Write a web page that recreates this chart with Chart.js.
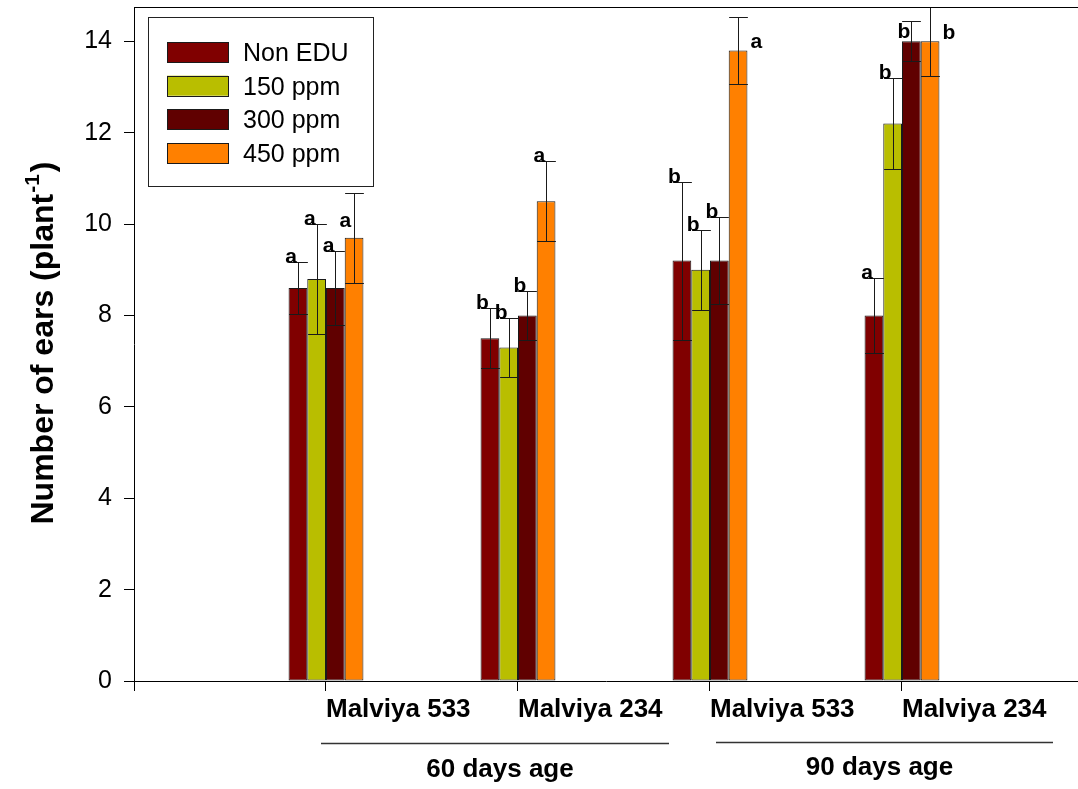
<!DOCTYPE html>
<html><head><meta charset="utf-8">
<script src="https://cdn.jsdelivr.net/npm/chart.js@4.4.1/dist/chart.umd.min.js"></script>
<style>html,body{margin:0;padding:0;background:#fff}</style>
</head><body>
<canvas id="c" width="1078" height="789"></canvas>
<script>
// ---- data ----
const categories = ['Malviya 533', 'Malviya 234', 'Malviya 533', 'Malviya 234'];
const categoryPositions = [1, 2, 3, 4];
const ageGroups = ['60 days age', '90 days age'];
const ageGroupMembers = [[1, 2], [3, 4]];
const seriesNames = ['Non EDU', '150 ppm', '300 ppm', '450 ppm'];
const nonEDU = [8.6, 7.5, 9.2, 8.0];
const ppm150 = [8.8, 7.3, 9.0, 12.2];
const ppm300 = [8.6, 8.0, 9.2, 14.0];
const ppm450 = [9.7, 10.5, 13.8, 14.0];
const errNonEDU = [0.56, 0.66, 1.73, 0.83];
const err150 = [1.2, 0.64, 0.88, 1.0];
const err300 = [0.8, 0.53, 0.96, 0.44];
const err450 = [0.98, 0.87, 0.73, 0.75];
const lettersNonEDU = ['a', 'b', 'b', 'a'];
const letters150 = ['a', 'b', 'b', 'b'];
const letters300 = ['a', 'b', 'b', 'b'];
const letters450 = ['a', 'a', 'a', 'b'];
const yTickStep = 2;
const yMin = 0, yMax = 14.75;
const yTitle = 'Number of ears (plant';
const yTitleSup = '-1';
const yTitleEnd = ')';

// ---- styles ----
const colors = ['#800000', '#B9BE00', '#600000', '#FF8000'];
const FONT = "'Liberation Sans', Arial, Helvetica, sans-serif";
Chart.defaults.font.family = FONT;
Chart.defaults.color = '#000';

const values = [nonEDU, ppm150, ppm300, ppm450];
const errors = [errNonEDU, err150, err300, err450];
const letters = [lettersNonEDU, letters150, letters300, letters450];

const datasets = seriesNames.map((name, k) => ({
  label: name,
  data: values[k].map((v, i) => ({x: categoryPositions[i], y: v})),
  errors: errors[k],
  letters: letters[k],
  backgroundColor: colors[k],
  borderColor: '#1a1a1a',
  borderWidth: 1,
  borderSkipped: false,
  categoryPercentage: 0.39,
  barPercentage: 1.0
}));

function legendBox(chart) {
  const ca = chart.chartArea;
  return {x: ca.left + 14, y: ca.top + 10, w: 225, h: 169};
}

const errorBarPlugin = {
  id: 'errorBars',
  afterDatasetsDraw(chart) {
    const {ctx, chartArea} = chart;
    const y = chart.scales.y;
    ctx.save();
    ctx.beginPath();
    ctx.rect(chartArea.left, chartArea.top - 0.5, chartArea.right - chartArea.left, chartArea.bottom - chartArea.top + 1);
    ctx.clip();
    ctx.strokeStyle = '#1a1a1a';
    ctx.lineWidth = 1;
    chart.data.datasets.forEach((ds, k) => {
      const meta = chart.getDatasetMeta(k);
      meta.data.forEach((bar, i) => {
        const v = ds.data[i].y, e = ds.errors[i];
        const x = Math.round(bar.x) + 0.5;
        const yt = Math.round(y.getPixelForValue(v + e)) + 0.5;
        const yb = Math.round(y.getPixelForValue(v - e)) + 0.5;
        const hw = bar.width / 2;
        ctx.beginPath();
        ctx.moveTo(x, yt); ctx.lineTo(x, yb);
        ctx.moveTo(x - hw, yt); ctx.lineTo(x + hw, yt);
        ctx.moveTo(x - hw, yb); ctx.lineTo(x + hw, yb);
        ctx.stroke();
      });
    });
    ctx.restore();
    // top frame line
    ctx.save();
    ctx.strokeStyle = '#000';
    ctx.lineWidth = 1;
    ctx.beginPath();
    const t = Math.round(chartArea.top) + 0.5;
    ctx.moveTo(chartArea.left, t); ctx.lineTo(chartArea.right, t);
    ctx.stroke();
    ctx.restore();
  }
};

const letterPlugin = {
  id: 'letters',
  afterDatasetsDraw(chart) {
    const {ctx, chartArea} = chart;
    const y = chart.scales.y;
    const n = chart.data.datasets.length;
    const lb = legendBox(chart);
    ctx.save();
    ctx.font = 'bold 21px ' + FONT;
    ctx.fillStyle = '#000';
    ctx.textBaseline = 'alphabetic';
    chart.data.datasets.forEach((ds, k) => {
      const meta = chart.getDatasetMeta(k);
      meta.data.forEach((bar, i) => {
        const v = ds.data[i].y, e = ds.errors[i];
        const cap = y.getPixelForValue(v + e);
        const nearTop = cap - 18 < chartArea.top + 12;
        if (nearTop && k === n - 1) {
          ctx.textAlign = 'left';
          ctx.fillText(ds.letters[i], bar.x + bar.width / 2 + 3, y.getPixelForValue(v) - 2);
        } else {
          ctx.textAlign = 'right';
          let yy = Math.max(cap + 1, chartArea.top + 31);
          const lx = bar.x - 14;
          if (lx < lb.x + lb.w && yy - 16 < lb.y + lb.h) {
            yy = lb.y + lb.h + 41;
            ctx.fillText(ds.letters[i], bar.x - 3, yy);
          } else {
            ctx.fillText(ds.letters[i], bar.x - 1, yy);
          }
        }
      });
    });
    ctx.restore();
  }
};

const legendPlugin = {
  id: 'boxLegend',
  afterDraw(chart) {
    const {ctx} = chart;
    const lb = legendBox(chart);
    const bx = lb.x, by = lb.y, bw = lb.w, bh = lb.h;
    ctx.save();
    ctx.fillStyle = '#fff';
    ctx.fillRect(bx, by, bw, bh);
    ctx.strokeStyle = '#222';
    ctx.lineWidth = 1;
    ctx.strokeRect(Math.round(bx) + 0.5, Math.round(by) + 0.5, bw, bh);
    ctx.font = '25px ' + FONT;
    ctx.textAlign = 'left';
    ctx.textBaseline = 'alphabetic';
    chart.data.datasets.forEach((ds, k) => {
      const sy = by + 25 + k * 33.7;
      ctx.fillStyle = ds.backgroundColor;
      ctx.fillRect(bx + 19, sy, 61, 20);
      ctx.strokeStyle = '#1a1a1a';
      ctx.strokeRect(Math.round(bx + 19) + 0.5, Math.round(sy) + 0.5, 61, 20);
      ctx.fillStyle = '#000';
      ctx.fillText(ds.label, bx + 95, sy + 19);
    });
    ctx.restore();
  }
};

const yTitlePlugin = {
  id: 'yTitle',
  afterDraw(chart) {
    const {ctx} = chart;
    ctx.save();
    const mainFont = 'bold 32px ' + FONT, supFont = 'bold 21px ' + FONT;
    ctx.font = mainFont; const w1 = ctx.measureText(yTitle).width;
    ctx.font = supFont; const w2 = ctx.measureText(yTitleSup).width;
    ctx.font = mainFont; const w3 = ctx.measureText(yTitleEnd).width;
    const total = w1 + w2 + 3 + w3;
    const cy = 343;
    ctx.translate(53, cy);
    ctx.rotate(-Math.PI / 2);
    ctx.fillStyle = '#000';
    ctx.textAlign = 'left';
    ctx.textBaseline = 'alphabetic';
    let x = -total / 2;
    ctx.font = mainFont; ctx.fillText(yTitle, x, 0); x += w1;
    ctx.font = supFont; ctx.fillText(yTitleSup, x + 1, -14); x += w2 + 3;
    ctx.font = mainFont; ctx.fillText(yTitleEnd, x, 0);
    ctx.restore();
  }
};

const groupPlugin = {
  id: 'ageGroups',
  afterDraw(chart) {
    const {ctx} = chart;
    const xs = chart.scales.x;
    ctx.save();
    ctx.font = 'bold 26px ' + FONT;
    ctx.textAlign = 'center';
    ctx.textBaseline = 'alphabetic';
    ageGroups.forEach((g, j) => {
      const m = ageGroupMembers[j];
      const x0 = xs.getPixelForValue(m[0]) - 5 + j * 11;
      const x1 = xs.getPixelForValue(m[m.length - 1]) + 151;
      const ly = 743.5 - j * 1;
      ctx.strokeStyle = '#333';
      ctx.lineWidth = 1.5;
      ctx.beginPath(); ctx.moveTo(x0, ly); ctx.lineTo(x1, ly); ctx.stroke();
      ctx.fillStyle = '#000';
      ctx.fillText(g, (x0 + x1) / 2 + 5 - j * 10, 777 - j * 2);
    });
    ctx.restore();
  }
};

new Chart(document.getElementById('c'), {
  type: 'bar',
  data: {datasets},
  options: {
    responsive: false,
    animation: false,
    devicePixelRatio: 1,
    layout: {padding: {top: 7, left: 0, right: 0, bottom: 0}},
    plugins: {legend: {display: false}, tooltip: {enabled: false}},
    scales: {
      x: {
        type: 'linear', min: 0, max: 4.9167, offset: false,
        grid: {drawOnChartArea: false, drawTicks: true, tickLength: 10, color: '#000', lineWidth: 1, offset: false},
        border: {color: '#000', width: 1},
        ticks: {
          stepSize: 1, includeBounds: false, autoSkip: false, maxRotation: 0, minRotation: 0,
          align: 'start', padding: 3, color: '#000', font: {size: 26, weight: 'bold'},
          callback: (v) => { const i = categoryPositions.indexOf(v); return i >= 0 ? categories[i] : ''; }
        },
        afterFit: (s) => { s.height = 108; s.paddingLeft = 0; s.paddingRight = 0; }
      },
      y: {
        min: yMin, max: yMax,
        grid: {drawOnChartArea: false, drawTicks: true, tickLength: 10, color: '#000', lineWidth: 1},
        border: {color: '#000', width: 1},
        ticks: {stepSize: yTickStep, includeBounds: false, padding: 12, color: '#000', font: {size: 25}},
        afterFit: (s) => { s.width = 134; s.paddingTop = 0; s.paddingBottom = 0; }
      }
    }
  },
  plugins: [errorBarPlugin, letterPlugin, legendPlugin, yTitlePlugin, groupPlugin]
});
</script>
</body></html>
